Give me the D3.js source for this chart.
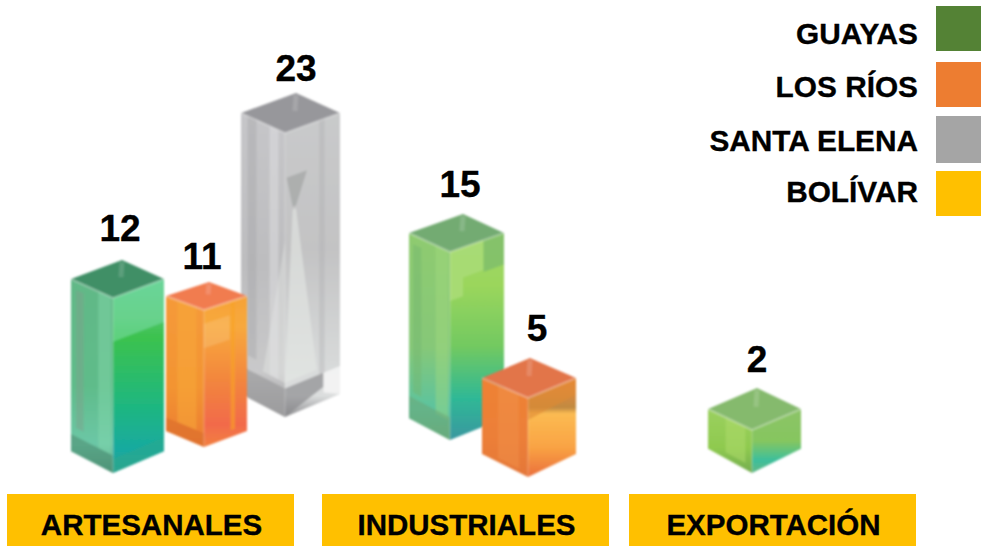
<!DOCTYPE html>
<html>
<head>
<meta charset="utf-8">
<script src="https://cdn.jsdelivr.net/npm/d3@7"></script>
<style>
  html, body { margin: 0; padding: 0; background: #fff; }
  svg { display: block; }
  text { font-family: "Liberation Sans", Arial, sans-serif; font-weight: 700; fill: #000; stroke: #000; stroke-width: 0.35px; }
</style>
</head>
<body>
<svg id="chart" width="981" height="546"></svg>
<script>
const categories = ['ARTESANALES', 'INDUSTRIALES', 'EXPORTACIÓN'];
const seriesNames = ['GUAYAS', 'LOS RÍOS', 'SANTA ELENA', 'BOLÍVAR'];
const guayas = [12, 15, 2];
const losRios = [11, 5, null];
const santaElena = [23, null, null];
const bolivar = [null, null, null];
const seriesValues = [guayas, losRios, santaElena, bolivar];
const seriesColors = ['#548235', '#ed7d31', '#a5a5a5', '#ffc000'];

// the picture is a hand placed 3D clipart, not to scale, so height goes through the values it shows
const heightDomain = [2, 5, 11, 12, 15, 23];
const heightRange = [43, 79, 137, 175, 188, 284];

const width = 981;
const height = 546;
const svg = d3.select('#chart');
const defs = svg.append('defs');

defs.append('filter').attr('id', 'soft')
    .attr('x', '-5%').attr('y', '-5%').attr('width', '110%').attr('height', '110%')
    .append('feGaussianBlur').attr('stdDeviation', 1.1);

const barHeight = d3.scaleLinear().domain(heightDomain).range(heightRange);
const catLeft = d3.scaleOrdinal().domain(categories).range([7, 322, 629]);
const seriesRow = d3.scaleOrdinal().domain(seriesNames).range([6, 62, 116, 171]);
const seriesRowH = d3.scaleOrdinal().domain(seriesNames).range([45, 45, 47, 45]);
const seriesBaseline = d3.scaleOrdinal().domain(seriesNames).range([44, 97, 151, 202]);

// where each block stands on its label band, and how its sides open up
const placement = {
    'GUAYAS|ARTESANALES': { dx: 106, base: 473, lw: 42, rw: 51, drop: 19, labelDx: -2, labelGap: 19 },
    'LOS RÍOS|ARTESANALES': { dx: 197, base: 447, lw: 38, rw: 43, drop: 14, labelDx: -7, labelGap: 13 },
    'SANTA ELENA|ARTESANALES': { dx: 278, base: 417, lw: 44, rw: 55, drop: 20, labelDx: 0, labelGap: 12 },
    'GUAYAS|INDUSTRIALES': { dx: 128, base: 440, lw: 41, rw: 54, drop: 19, labelDx: -3, labelGap: 17 },
    'LOS RÍOS|INDUSTRIALES': { dx: 206, base: 477, lw: 46, rw: 48, drop: 20, labelDx: 7, labelGap: 17 },
    'GUAYAS|EXPORTACIÓN': { dx: 123, base: 473, lw: 44, rw: 49, drop: 21, labelDx: 0, labelGap: 16 }
};

// face colours per block, left and right run top to bottom
const glass = {
    'GUAYAS|ARTESANALES': {
        top: '#3f8f66',
        left: [[0, '#62b887'], [0.55, '#5fbc8a'], [0.85, '#6cc7a6'], [1, '#4f9d80']],
        right: [[0, '#55c985'], [0.2, '#4fc56a'], [0.3, '#3cc24e'], [0.65, '#1fb77f'], [0.88, '#18aaa0'], [1, '#2aa190']],
        parts: [
            ['right', [[0, 1], [1, 1], [1, 0.75], [0, 0.75]], '#7fe0ae', 0.5],
            ['left', [[0.05, 1], [0.35, 1], [0.35, 0.1], [0.05, 0.1]], '#86dcb0', 0.4],
            ['left', [[0.7, 0.95], [0.88, 0.95], [0.88, 0.15], [0.7, 0.15]], '#7f9f8c', 0.45],
            ['left', [[0, 0.1], [1, 0.1], [1, 0], [0, 0]], '#4d8a70', 0.55],
            ['right', [[0, 0.08], [1, 0.08], [1, 0], [0, 0]], '#2ba98d', 0.6]
        ]
    },
    'LOS RÍOS|ARTESANALES': {
        top: '#f17b50',
        left: [[0, '#f59a3a'], [0.6, '#f39432'], [1, '#ec7b34']],
        right: [[0, '#f6a238'], [0.2, '#f8a93c'], [0.6, '#f2823f'], [0.85, '#f26a4a'], [1, '#f2803f']],
        parts: [
            ['right', [[0, 0.9], [0.6, 0.9], [0.6, 0.72], [0, 0.72]], '#f9c27d', 0.4],
            ['right', [[0.62, 1], [0.72, 1], [0.72, 0.05], [0.62, 0.05]], '#f9a425', 0.6],
            ['left', [[0.2, 1], [0.7, 1], [0.7, 0.1], [0.2, 0.1]], '#f8aa3a', 0.5],
            ['left', [[0, 0.1], [1, 0.1], [1, 0], [0, 0]], '#d96d2a', 0.6]
        ]
    },
    'SANTA ELENA|ARTESANALES': {
        top: '#97979b',
        left: [[0, '#c6c6c9'], [0.5, '#bdbdbf'], [0.85, '#c9c9ca'], [1, '#a2a2a4']],
        right: [[0, '#c9cacb'], [0.45, '#c3c3c4'], [0.8, '#d6d8d8'], [0.93, '#dcdede'], [1, '#8f8f92']],
        parts: [
            ['right', [[0.03, 0.84], [0.4, 0.84], [0.2, 0.73], [0.14, 0.73]], '#8e9290', 0.45],
            ['right', [[0.2, 0.72], [0.14, 0.72], [0, 0.12], [0.58, 0.12]], '#e4e7e4', 0.6],
            ['left', [[0, 0.62], [0, 0.12], [0.5, 0.12]], '#e0e2e0', 0.5],
            ['right', [[0.62, 1], [0.72, 1], [0.72, 0.1], [0.62, 0.1]], '#a9a9ab', 0.3],
            ['left', [[0.15, 1], [0.35, 1], [0.35, 0.12], [0.15, 0.12]], '#e2e2e4', 0.45],
            ['left', [[0.65, 1], [0.85, 1], [0.85, 0.15], [0.65, 0.15]], '#a4a4a7', 0.4],
            ['left', [[0, 0.1], [1, 0.1], [1, 0], [0, 0]], '#98989a', 0.65],
            ['right', [[0, 0.1], [0.7, 0.1], [0.7, 0.05], [0, 0]], '#87878a', 0.65],
            ['right', [[0.7, 0.1], [1, 0.1], [1, 0], [0.7, 0.03]], '#f4f4f4', 0.9]
        ]
    },
    'GUAYAS|INDUSTRIALES': {
        top: '#73ab72',
        left: [[0, '#8fcb70'], [0.55, '#86c878'], [0.85, '#5cc39f'], [1, '#65ad7e']],
        right: [[0, '#9fd868'], [0.25, '#9bd65c'], [0.55, '#72c961'], [0.8, '#2fb896'], [1, '#3a97a0']],
        parts: [
            ['right', [[0, 1], [0.62, 1], [0.62, 0.84], [0.24, 0.84], [0.24, 0.74], [0, 0.74]], '#a9dc75', 0.9],
            ['right', [[0.62, 1], [1, 1], [1, 0.83], [0.62, 0.83]], '#82c06a', 0.9],
            ['left', [[0.05, 1], [0.35, 1], [0.35, 0.1], [0.05, 0.1]], '#a6dc80', 0.4],
            ['left', [[0.7, 0.95], [0.9, 0.95], [0.9, 0.15], [0.7, 0.15]], '#74b56f', 0.45],
            ['left', [[0, 0.12], [1, 0.12], [1, 0], [0, 0]], '#6aa97a', 0.6]
        ]
    },
    'LOS RÍOS|INDUSTRIALES': {
        top: '#e2754a',
        left: [[0, '#ee8234'], [0.6, '#ec7f38'], [1, '#e4773a']],
        right: [[0, '#f0883a'], [0.3, '#c18a42'], [0.36, '#fbbb52'], [0.7, '#f9a344'], [1, '#ea6f3c']],
        parts: [
            ['right', [[0, 1], [1, 1], [1, 0.78], [0, 0.72]], '#df8b34', 0.6],
            ['left', [[0.2, 1], [0.65, 1], [0.65, 0.05], [0.2, 0.05]], '#f1934c', 0.45]
        ]
    },
    'GUAYAS|EXPORTACIÓN': {
        top: '#85ba6d',
        left: [[0, '#9bd05f'], [0.6, '#8fca4f'], [1, '#74ad50']],
        right: [[0, '#8cc468'], [0.5, '#86c65f'], [0.8, '#3dbf9c'], [1, '#62b884']],
        parts: [
            ['left', [[0.15, 1], [0.6, 1], [0.6, 0.15], [0.15, 0.15]], '#b0dc6c', 0.5]
        ]
    }
};

function addGradient(id, stops) {
    const g = defs.append('linearGradient').attr('id', id)
        .attr('x1', 0).attr('y1', 0).attr('x2', 0).attr('y2', 1);
    stops.forEach(s => g.append('stop').attr('offset', s[0]).attr('stop-color', s[1]));
    return 'url(#' + id + ')';
}

const bars = [];
seriesNames.forEach((name, s) => {
    categories.forEach((cat, c) => {
        const value = seriesValues[s][c];
        if (value == null) return;
        bars.push({ key: name + '|' + cat, name, cat, value });
    });
});
bars.sort((a, b) => placement[a.key].base - placement[b.key].base);

const pts = list => list.map(p => p.join(',')).join(' ');

bars.forEach((d, i) => {
    const p = placement[d.key];
    const style = glass[d.key];
    const x = catLeft(d.cat) + p.dx;
    const yb = p.base;
    const h = barHeight(d.value);
    const yt = yb - h;

    // u runs from the front edge to the outer edge, v from bottom to top
    const onFace = (face, u, v) => {
        const w = face === 'left' ? -p.lw : p.rw;
        return [x + w * u, yb - p.drop * 1.15 * u - h * v + (p.drop * 0.15) * u * v];
    };
    const quad = (face, list) => pts(list.map(q => onFace(face, q[0], q[1])));

    const g = svg.append('g').attr('filter', 'url(#soft)');
    const side = ['left', 'right'];
    side.forEach(face => {
        const fill = addGradient('f' + i + face, style[face]);
        g.append('polygon')
            .attr('points', quad(face, [[0, 0], [1, 0], [1, 1], [0, 1]]))
            .attr('fill', fill);
    });
    style.parts.forEach(part => {
        g.append('polygon')
            .attr('points', quad(part[0], part[1]))
            .attr('fill', part[2])
            .attr('opacity', part[3]);
    });

    // top face
    const front = [x, yt];
    const lft = [x - p.lw, yt - p.drop];
    const rgt = [x + p.rw, yt - p.drop];
    const back = [x - p.lw + p.rw, yt - 2 * p.drop];
    g.append('polygon').attr('points', pts([front, lft, back, rgt])).attr('fill', style.top);
    g.append('line')
        .attr('x1', back[0]).attr('y1', back[1] + 2)
        .attr('x2', back[0] - 1).attr('y2', back[1] + p.drop * 0.9)
        .attr('stroke', '#fff').attr('stroke-opacity', 0.15).attr('stroke-width', 5);

    // light rim round the top and down the front edge
    g.append('polyline').attr('points', pts([lft, front, rgt]))
        .attr('fill', 'none').attr('stroke', '#fff').attr('stroke-opacity', 0.25).attr('stroke-width', 2);
    g.append('line')
        .attr('x1', x).attr('y1', yt).attr('x2', x).attr('y2', yb)
        .attr('stroke', '#fff').attr('stroke-opacity', 0.12).attr('stroke-width', 2);

    svg.append('text')
        .attr('x', back[0] + p.labelDx)
        .attr('y', back[1] - p.labelGap)
        .attr('text-anchor', 'middle')
        .attr('font-size', 37)
        .text(d.value);
});

// category bands
const bandW = 287;
svg.append('g').selectAll('rect').data(categories).join('rect')
    .attr('x', d => catLeft(d))
    .attr('y', 494)
    .attr('width', bandW)
    .attr('height', height - 494)
    .attr('fill', '#ffc000');
svg.append('g').selectAll('text').data(categories).join('text')
    .attr('x', d => catLeft(d) + bandW / 2 + 1)
    .attr('y', 535)
    .attr('text-anchor', 'middle')
    .attr('font-size', 29.5)
    .text(d => d);

// legend
const legend = svg.append('g');
legend.selectAll('rect').data(seriesNames).join('rect')
    .attr('x', 936)
    .attr('y', d => seriesRow(d))
    .attr('width', width - 936)
    .attr('height', d => seriesRowH(d))
    .attr('fill', (d, i) => seriesColors[i]);
legend.selectAll('text').data(seriesNames).join('text')
    .attr('x', 918)
    .attr('y', d => seriesBaseline(d))
    .attr('text-anchor', 'end')
    .attr('font-size', 29.8)
    .text(d => d);
</script>
</body>
</html>
